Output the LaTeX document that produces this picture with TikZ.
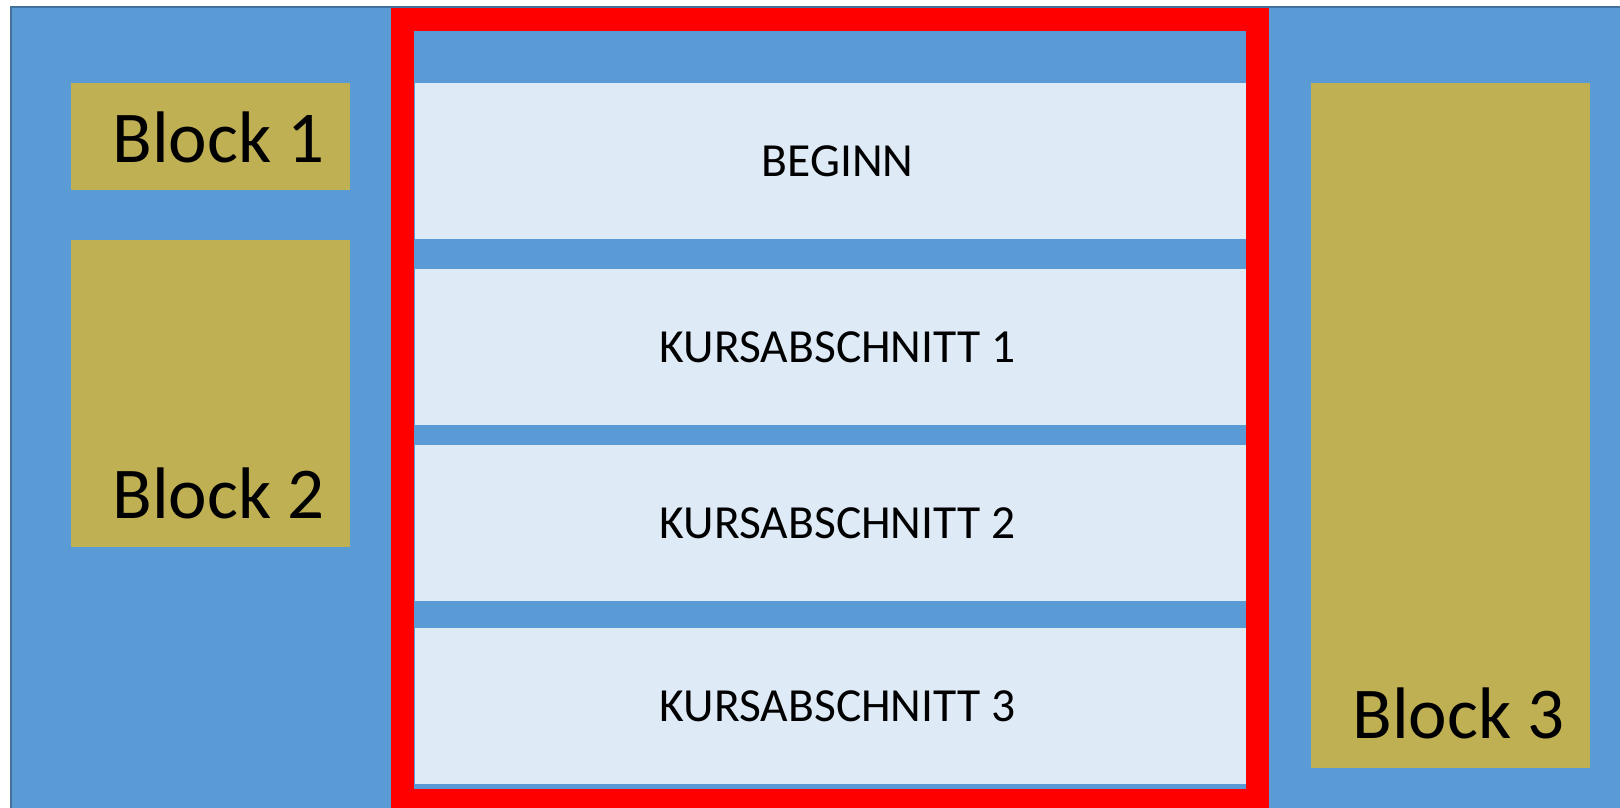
\documentclass[tikz,border=0pt]{standalone}
\usepackage{fontspec}
\setmainfont{Carlito}
\usepackage{tikz}
\usetikzlibrary{positioning}
\definecolor{panelblue}{HTML}{5B9BD5}
\definecolor{paneledge}{HTML}{41719C}
\definecolor{stagefill}{HTML}{DEEAF6}
\definecolor{blockfill}{HTML}{BFB053}
\tikzset{
    %Define style for the course sections
    stage/.style={
           rectangle,
           fill=stagefill,
           inner sep=0pt,
           minimum width=832pt,
           minimum height=156pt,
           label={[xshift=7pt,font=\fontsize{47.5}{56}\selectfont]center:#1}},
    %Define style for the side blocks
    blockbox/.style={
           rectangle,
           fill=blockfill,
           inner sep=0pt,
           minimum width=279pt},
    blocklabel/.style={
           anchor=base east,
           inner sep=0pt,
           font=\fontsize{73}{84}\selectfont},
    % Define frame style
    frame/.style={
           draw=red,
           line width=23pt}
}
\begin{document}
\begin{tikzpicture}[x=1pt,y=-1pt]
\useasboundingbox (0,0) rectangle (1620,807);
% background
\fill[white] (0,0) rectangle (1620,807);
\draw[fill=panelblue,draw=paneledge,line width=2pt] (11,7) rectangle (1630,820);
% course sections
\node[stage=BEGINN](beginn) at (830.5,161){};
\node[stage=KURSABSCHNITT 1](k1) at (830.5,347){};
\node[stage=KURSABSCHNITT 2](k2) at (830.5,523){};
\node[stage=KURSABSCHNITT 3](k3) at (830.5,706){};
\draw[frame] (402.5,19) rectangle (1257.5,800.5);
% side blocks
\node[blockbox, minimum height=107pt](b1) at (210.5,136.5){};
\node[blockbox, minimum height=307pt](b2) at (210.5,393.5){};
\node[blockbox, minimum height=685pt](b3) at (1450.5,425.5){};
\node[blocklabel] at ([xshift=-25pt,yshift=28pt]b1.south east){Block 1};
\node[blocklabel] at ([xshift=-25pt,yshift=29pt]b2.south east){Block 2};
\node[blocklabel] at ([xshift=-25pt,yshift=30pt]b3.south east){Block 3};
\end{tikzpicture}
\end{document}
